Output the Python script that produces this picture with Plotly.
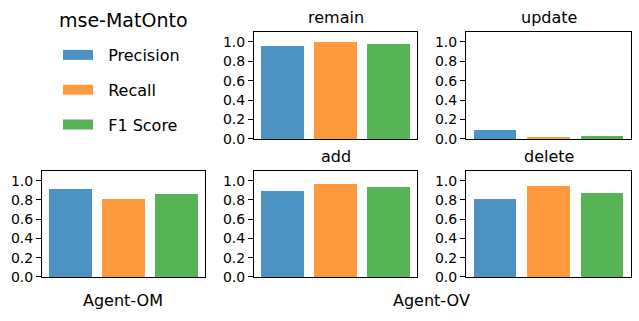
import plotly.graph_objects as go

metrics = ["Precision", "Recall", "F1 Score"]
colors = ["rgba(31,119,180,0.8)", "rgba(255,127,14,0.8)", "rgba(44,160,44,0.8)"]

agent_om = [0.91, 0.81, 0.86]
remain = [0.96, 1.00, 0.98]
update = [0.09, 0.02, 0.03]
add = [0.89, 0.97, 0.93]
delete = [0.81, 0.94, 0.87]

panels = [
    # (values, title, x domain, y domain)
    (agent_om, "", [0.0657, 0.3208], [0.1371, 0.4673]),
    (remain, "remain", [0.3975, 0.6526], [0.5670, 0.9003]),
    (update, "update", [0.7293, 0.9875], [0.5670, 0.9003]),
    (add, "add", [0.3975, 0.6526], [0.1371, 0.4673]),
    (delete, "delete", [0.7293, 0.9875], [0.1371, 0.4673]),
]

font = "DejaVu Sans"
fig = go.Figure()
annotations = []

for i, (vals, title, xd, yd) in enumerate(panels, start=1):
    sfx = "" if i == 1 else str(i)
    fig.add_trace(go.Bar(x=[0, 1, 2], y=vals, width=0.8,
                         marker=dict(color=colors, line=dict(width=0)),
                         xaxis="x" + sfx, yaxis="y" + sfx, showlegend=False))
    fig.layout["xaxis" + sfx] = dict(domain=xd, range=[-0.54, 2.54], showticklabels=False,
                                     ticks="", showgrid=False, zeroline=False, automargin=False,
                                     showline=True, linecolor="black", linewidth=1, mirror=True,
                                     anchor="y" + sfx)
    fig.layout["yaxis" + sfx] = dict(domain=yd, range=[0, 1.1], tickvals=[0, 0.2, 0.4, 0.6, 0.8, 1.0],
                                     tickformat=".1f", ticks="outside", ticklen=5, tickcolor="black",
                                     showgrid=False, zeroline=False, automargin=False,
                                     showline=True, linecolor="black", linewidth=1, mirror=True,
                                     tickfont=dict(size=14, color="black"),
                                     anchor="x" + sfx)
    if title:
        annotations.append(dict(text=title, x=(xd[0] + xd[1]) / 2, y=yd[1], xref="paper", yref="paper",
                                xanchor="center", yanchor="bottom", yshift=3, showarrow=False,
                                font=dict(size=16, color="black")))

# legend entries
for name, c in zip(metrics, colors):
    fig.add_trace(go.Scatter(x=[None], y=[None], mode="lines", name="  " + name,
                             line=dict(color=c, width=14), legendgroup=name))

annotations += [
    dict(text="mse-MatOnto", x=123 / 639, y=1 - 20 / 321, xref="paper", yref="paper",
         xanchor="center", yanchor="middle", showarrow=False, font=dict(size=19, color="black")),
    dict(text="Agent-OM", x=123.5 / 639, y=1 - 300 / 321, xref="paper", yref="paper",
         xanchor="center", yanchor="middle", showarrow=False, font=dict(size=16, color="black")),
    dict(text="Agent-OV", x=431 / 639, y=1 - 300 / 321, xref="paper", yref="paper",
         xanchor="center", yanchor="middle", showarrow=False, font=dict(size=16, color="black")),
]

fig.update_layout(
    width=639, height=321,
    margin=dict(l=0, r=0, t=0, b=0, autoexpand=False),
    paper_bgcolor="white", plot_bgcolor="white",
    font=dict(family=font, color="black"),
    annotations=annotations,
    legend=dict(x=58 / 639, y=1 - 38 / 321, xanchor="left", yanchor="top",
                font=dict(size=16), tracegroupgap=11, bgcolor="rgba(0,0,0,0)"),
    bargap=0,
)

# page body has an 8px default margin; drop it so the figure sits at the window origin
fig.write_html("out.html", config={"displayModeBar": False},
               post_script="document.body.style.margin='0';")
